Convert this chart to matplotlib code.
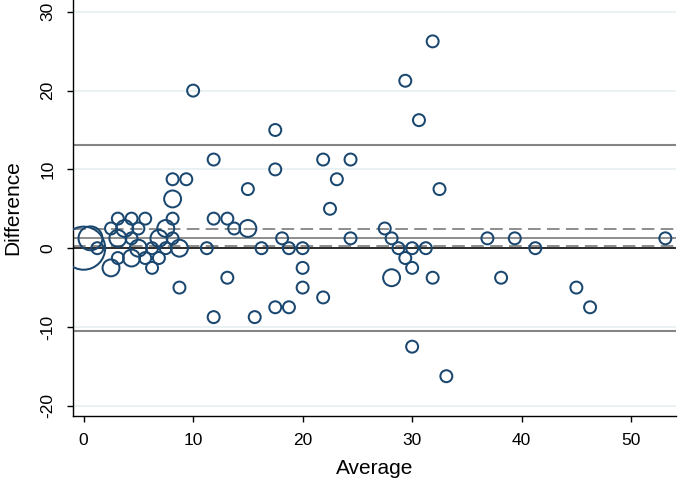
import numpy as np
import matplotlib.pyplot as plt

plt.rcParams["font.family"] = ["Liberation Sans", "DejaVu Sans"]

# Bland-Altman: average vs difference, marker area ~ frequency
avg = [31.875, 29.375, 30.625, 10, 17.5, 11.875, 21.875, 24.375, 17.5,
       8.125, 9.375, 23.125, 15, 32.5, 22.5, 8.125,
       27.5, 28.125, 28.75, 30, 31.25, 29.375, 30, 28.125, 31.875,
       36.875, 39.375, 41.25, 53.125, 38.125, 45, 46.25, 30, 33.125,
       18.125, 24.375, 16.25, 18.75, 20, 20, 20, 21.875, 17.5, 18.75,
       11.875, 15.625, 13.125, 8.75, 11.25, 11.875, 13.125, 13.75, 15,
       0, 0.625, 1.25, 2.5, 2.5, 3.125, 4.375, 5.625, 8.125, 3.125,
       3.75, 5, 4.375, 5, 3.125, 4.375, 5.625, 6.25, 6.875, 6.25,
       7.5, 6.875, 8.125, 7.5, 8.75]
diff = [26.25, 21.25, 16.25, 20, 15, 11.25, 11.25, 11.25, 10,
        8.75, 8.75, 8.75, 7.5, 7.5, 5, 6.25,
        2.5, 1.25, 0, 0, 0, -1.25, -2.5, -3.75, -3.75,
        1.25, 1.25, 0, 1.25, -3.75, -5, -7.5, -12.5, -16.25,
        1.25, 1.25, 0, 0, 0, -2.5, -5, -6.25, -7.5, -7.5,
        -8.75, -8.75, -3.75, -5, 0, 3.75, 3.75, 2.5, 2.5,
        0, 1.25, 0, -2.5, 2.5, 3.75, 3.75, 3.75, 3.75, 1.25,
        2.5, 2.5, 1.25, 0, -1.25, -1.25, -1.25, -2.5, -1.25, 0,
        0, 1.25, 1.25, 2.5, 0]
freq = [1, 1, 1, 1, 1, 1, 1, 1, 1,
        1, 1, 1, 1, 1, 1, 2,
        1, 1, 1, 1, 1, 1, 1, 2, 1,
        1, 1, 1, 1, 1, 1, 1, 1, 1,
        1, 1, 1, 1, 1, 1, 1, 1, 1, 1,
        1, 1, 1, 1, 1, 1, 1, 1, 2,
        13, 4, 1, 2, 1, 1, 1, 1, 1, 2,
        2, 1, 1, 2, 1, 2, 1, 1, 1, 1,
        1, 2, 1, 2, 2]

mean_diff = 1.28
ci_low, ci_high = 0.3, 2.45
loa_low, loa_high = -10.5, 13.07

navy = "#1a476f"
gray = "#858585"

fig = plt.figure(figsize=(6.85, 4.84), dpi=100)
ax = fig.add_axes([0.1061, 0.1405, 0.8808, 0.8595])

for yt in [-20, -10, 0, 10, 20, 30]:
    ax.axhline(yt, color="#e8f0f2", lw=1.3, zorder=0)

ax.axhline(loa_high, color=gray, lw=1.5, zorder=1)
ax.axhline(loa_low, color=gray, lw=1.5, zorder=1)
ax.axhline(mean_diff, color=gray, lw=1.3, zorder=1)
ax.axhline(ci_high, color=gray, lw=1.3, ls=(0, (7, 3.5)), zorder=1)
ax.axhline(ci_low, color=gray, lw=1.3, ls=(0, (7, 3.5)), zorder=1)
ax.axhline(0, color="#2b2b2b", lw=1.4, zorder=1)

sizes = 74 * np.array(freq)
ax.scatter(avg, diff, s=sizes, facecolors="none", edgecolors=navy,
           linewidths=1.45, zorder=3)

ax.set_xlim(-1.0, 54.1)
ax.set_ylim(-21.3, 31.5)
ax.set_xticks([0, 10, 20, 30, 40, 50])
ax.set_yticks([-20, -10, 0, 10, 20, 30])
ax.set_yticklabels(["-20", "-10", "0", "10", "20", "30"], rotation=90,
                   va="center")

ax.spines["top"].set_visible(False)
ax.spines["right"].set_visible(False)
for s in ["left", "bottom"]:
    ax.spines[s].set_linewidth(1.0)
    ax.spines[s].set_color("black")
ax.tick_params(axis="both", length=4.5, width=1.0, labelsize=12.5)
ax.tick_params(axis="y", pad=8)
ax.tick_params(axis="x", pad=8)

ax.set_xlabel("Average", fontsize=15, labelpad=8)
ax.set_ylabel("Difference", fontsize=15, labelpad=13)

fig.savefig("out.png", dpi=100)
